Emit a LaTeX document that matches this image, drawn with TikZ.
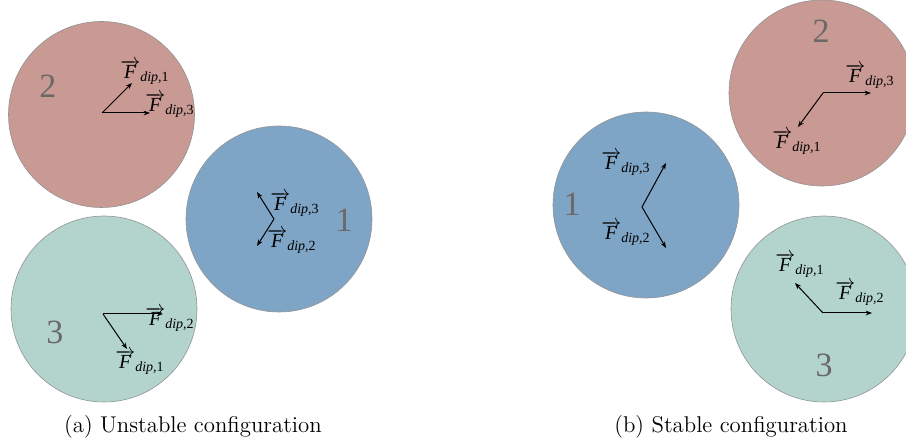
\documentclass[tikz,border=0pt]{standalone}
\usepackage{fontspec}
\usetikzlibrary{arrows.meta}
\newfontfamily\tnr{Liberation Serif}
\definecolor{ballred}{HTML}{C99994}
\definecolor{ballblue}{HTML}{7FA5C6}
\definecolor{ballgreen}{HTML}{B2D4CD}
\definecolor{numgray}{HTML}{6B6868}
\newcommand{\fdip}[1]{$\overrightarrow{\mbox{\tnr\itshape F}}_{\mbox{\tnr\scriptsize\itshape dip,\upshape #1}}$}

\begin{document}
\begin{tikzpicture}[x=0.5pt,y=-0.5pt,
  ball/.style={circle,draw=gray!85,line width=0.3pt,minimum size=93pt,inner sep=0pt},
  force/.style={-{Stealth[length=3.2pt,width=2.4pt]},line width=0.5pt},
  num/.style={text=numgray,font=\tnr\fontsize{17}{17}\selectfont,inner sep=0pt},
  lbl/.style={font=\fontsize{10}{12}\selectfont,inner sep=0pt},
  subcap/.style={font=\fontsize{11.4}{13}\selectfont,inner sep=0pt}]

  \useasboundingbox (0,0) rectangle (906,442);

  % (a) unstable
  \node[ball,fill=ballred]   (a2) at (101.5,114.5) {};
  \node[ball,fill=ballblue]  (a1) at (279,219) {};
  \node[ball,fill=ballgreen] (a3) at (104,309) {};
  \node[num] (na2) at (48,86) {2};
  \node[num] (na1) at (344,220) {1};
  \node[num] (na3) at (55,332) {3};

  \coordinate (a2o) at (102,113);
  \coordinate (a21) at (132,83);
  \coordinate (a23) at (150,113);
  \draw[force] (a2o) -- (a21);
  \draw[force] (a2o) -- (a23);
  \node[lbl] (la21) at (145,72) {\fdip{1}};
  \node[lbl] (la23) at (170,105) {\fdip{3}};

  \coordinate (a1o) at (274,219);
  \coordinate (a13) at (257,192);
  \coordinate (a12) at (257,246);
  \draw[force] (a1o) -- (a13);
  \draw[force] (a1o) -- (a12);
  \node[lbl] (la13) at (295,204) {\fdip{3}};
  \node[lbl] (la12) at (292,241) {\fdip{2}};

  \coordinate (a3o) at (103,314);
  \coordinate (a32) at (163,314);
  \coordinate (a31) at (127,349);
  \draw[force] (a3o) -- (a32);
  \draw[force] (a3o) -- (a31);
  \node[lbl] (la32) at (170,319) {\fdip{2}};
  \node[lbl] (la31) at (140,362) {\fdip{1}};

  \node[subcap] (capa) at (193,427) {(a) Unstable configuration};

  % (b) stable
  \node[ball,fill=ballred]   (b2) at (822,93) {};
  \node[ball,fill=ballblue]  (b1) at (646,205) {};
  \node[ball,fill=ballgreen] (b3) at (824,309) {};
  \node[num] (nb2) at (821,31) {2};
  \node[num] (nb1) at (572,204) {1};
  \node[num] (nb3) at (824,365) {3};

  \coordinate (b2o) at (823,93);
  \coordinate (b23) at (871,93);
  \coordinate (b21) at (798,127);
  \draw[force] (b2o) -- (b23);
  \draw[force] (b2o) -- (b21);
  \node[lbl] (lb23) at (870,76) {\fdip{3}};
  \node[lbl] (lb21) at (797,142) {\fdip{1}};

  \coordinate (b1o) at (642,207);
  \coordinate (b13) at (666,163);
  \coordinate (b12) at (666,248);
  \draw[force] (b1o) -- (b13);
  \draw[force] (b1o) -- (b12);
  \node[lbl] (lb13) at (626,163) {\fdip{3}};
  \node[lbl] (lb12) at (626,233) {\fdip{2}};

  \coordinate (b3o) at (823,313);
  \coordinate (b32) at (872,313);
  \coordinate (b31) at (795,283);
  \draw[force] (b3o) -- (b32);
  \draw[force] (b3o) -- (b31);
  \node[lbl] (lb31) at (800,265) {\fdip{1}};
  \node[lbl] (lb32) at (860,293) {\fdip{2}};

  \node[subcap] (capb) at (731,427) {(b) Stable configuration};

\end{tikzpicture}
\end{document}
